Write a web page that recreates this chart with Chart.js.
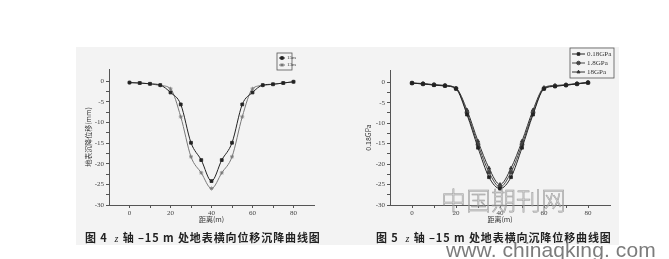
<!DOCTYPE html>
<html>
<head>
<meta charset="utf-8">
<script src="https://cdn.jsdelivr.net/npm/chart.js@4.4.0/dist/chart.umd.min.js"></script>
<style>
  body { margin: 0; background: #fff; width: 669px; height: 259px; position: relative; overflow: hidden; }
  #panel { position: absolute; left: 76px; top: 47px; width: 543px; height: 198px; background: #f3f3f3; }
  canvas { position: absolute; }
  .cap { position: absolute; top: 229px; font: bold 11px "Noto Sans CJK SC", sans-serif; color: #222; letter-spacing: 0.9px; white-space: nowrap; }
  .cap i { font-family: "Liberation Serif", serif; font-weight: normal; font-size: 10px; }
  #wm { position: absolute; left: 441px; top: 181px; font: 200 25px "Noto Sans CJK SC", sans-serif; color: rgba(160,160,160,0.35); -webkit-text-stroke: 0.5px #999; white-space: nowrap; }
  #url { position: absolute; left: 446px; top: 238px; font: 21px "Liberation Sans", sans-serif; color: #7c7c7c; letter-spacing: 0.1px; white-space: nowrap; }
</style>
</head>
<body>
<div id="panel"></div>
<canvas id="fig4" width="264" height="185" style="left:76px;top:47px"></canvas>
<canvas id="fig5" width="279" height="185" style="left:340px;top:47px"></canvas>
<div class="cap" style="left:85px">图 4 &nbsp;<i>z</i> 轴 –15 m 处地表横向位移沉降曲线图</div>
<div class="cap" style="left:376px">图 5 &nbsp;<i>z</i> 轴 –15 m 处地表横向沉降位移曲线图</div>
<div id="wm">中国期刊网</div>
<div id="url">www. chinaqking. com</div>
<script>
// distance along the ground (m)
const distance = [0, 5, 10, 15, 20, 25, 30, 35, 40, 45, 50, 55, 60, 65, 70, 75, 80];
const xTicks = [0, 20, 40, 60, 80];
const yTicks = [0, -5, -10, -15, -20, -25, -30];

// fig 4: depth 15m / 13m
const depth15 = [-0.3, -0.4, -0.6, -0.9, -2.7, -5.6, -14.9, -19.1, -24.2, -19.1, -14.9, -5.6, -2.7, -0.9, -0.7, -0.4, -0.1];
const depth13 = [-0.3, -0.4, -0.6, -1.0, -1.8, -8.6, -18.3, -22.2, -26.0, -22.2, -18.3, -8.6, -1.8, -1.0, -0.7, -0.4, -0.1];

// fig 5: modulus 0.18 / 1.8 / 18 GPa
const gpa018 = [-0.2, -0.4, -0.7, -0.9, -1.6, -7.9, -16.0, -23.2, -26.0, -23.2, -16.0, -7.9, -1.6, -1.0, -0.7, -0.4, -0.1];
const gpa18 = [-0.2, -0.4, -0.6, -0.8, -1.5, -7.4, -15.2, -22.0, -25.6, -22.0, -15.2, -7.4, -1.5, -0.9, -0.7, -0.4, -0.1];
const gpa180 = [-0.2, -0.3, -0.6, -0.8, -1.4, -6.8, -14.4, -21.0, -25.0, -21.0, -14.4, -6.8, -1.3, -0.8, -0.6, -0.3, 0];

const tickFont = { family: 'Liberation Serif', size: 7 };

// small boxed legend, origin style
const boxLegend = {
  id: 'boxLegend',
  afterDraw(chart, args, o) {
    const ctx = chart.ctx;
    const sets = chart.data.datasets;
    ctx.save();
    ctx.strokeStyle = '#555';
    ctx.lineWidth = 0.8;
    ctx.strokeRect(o.x, o.y, o.w, o.rowH * sets.length + 3);
    ctx.font = o.size + 'px "Liberation Serif"';
    ctx.textBaseline = 'middle';
    sets.forEach((ds, i) => {
      const cy = o.y + 1.5 + o.rowH * (i + 0.5);
      ctx.strokeStyle = ds.borderColor;
      ctx.lineWidth = 1;
      ctx.beginPath();
      ctx.moveTo(o.x + 2, cy);
      ctx.lineTo(o.x + o.lineW, cy);
      ctx.stroke();
      ctx.fillStyle = ds.pointBackgroundColor;
      ctx.strokeStyle = ds.borderColor;
      Chart.helpers.drawPoint(ctx, { pointStyle: ds.pointStyle, radius: 1.8, rotation: 0, borderWidth: 0.8 }, o.x + 2 + (o.lineW - 2) / 2, cy);
      ctx.fillStyle = '#333';
      ctx.fillText(ds.label, o.x + o.lineW + 2, cy);
    });
    ctx.restore();
  }
};

function series(label, data, color, style) {
  return {
    label: label, data: data,
    borderColor: color, backgroundColor: color, pointBackgroundColor: color,
    borderWidth: 1, pointStyle: style, pointRadius: 2, pointBorderWidth: 0.8,
    cubicInterpolationMode: 'monotone'
  };
}

function makeChart(id, sets, yTitle, box) {
  new Chart(document.getElementById(id), {
    type: 'line',
    data: { labels: distance, datasets: sets },
    plugins: [boxLegend],
    options: {
      responsive: false,
      animation: false,
      layout: { padding: box.pad },
      plugins: { legend: { display: false }, tooltip: { enabled: false }, boxLegend: box.legend },
      scales: {
        x: {
          type: 'linear', min: -10, max: 90,
          afterFit: s => { s.height = 27; },
          afterBuildTicks: s => { s.ticks = [0, 10, 20, 30, 40, 50, 60, 70, 80].map(v => ({ value: v })); },
          ticks: { font: tickFont, color: '#444', padding: 1, maxRotation: 0, autoSkip: false,
                   callback: v => xTicks.includes(v) ? v : '' },
          grid: { drawOnChartArea: false, tickLength: 3, color: '#555' },
          border: { color: '#555', width: 1 },
          title: { display: true, text: '距离(m)', font: { family: 'Noto Sans CJK SC', size: 7 }, color: '#333', padding: { top: 0, bottom: 8 } }
        },
        y: {
          min: -30, max: 3,
          afterFit: s => { s.width = box.yw; },
          afterBuildTicks: s => {
            const t = [];
            for (let v = 0; v >= -30; v -= 2.5) t.push({ value: v });
            s.ticks = t;
          },
          ticks: { font: tickFont, color: '#444', padding: 2, autoSkip: false,
                   callback: v => yTicks.includes(v) ? v : '' },
          grid: { drawOnChartArea: false, tickLength: 3, color: '#555' },
          border: { color: '#555', width: 1 },
          title: { display: true, text: yTitle, font: { family: 'Noto Sans CJK SC', size: 7 }, color: '#333', padding: { top: box.tp, bottom: 0 } }
        }
      }
    }
  });
}

makeChart('fig4', [
  series('15m', depth15, '#222', 'rect'),
  series('13m', depth13, '#777', 'star')
], '地表沉降位移(mm)', {
  pad: { top: 22, right: 26, left: 0, bottom: 0 }, yw: 33, tp: 8,
  legend: { x: 201, y: 6, w: 15, rowH: 7, lineW: 8, size: 5 }
});

makeChart('fig5', [
  series('0.18GPa', gpa018, '#222', 'rect'),
  series('1.8GPa', gpa18, '#444', 'circle'),
  series('18GPa', gpa180, '#333', 'triangle')
], '0.18GPa', {
  pad: { top: 23, right: 9, left: 0, bottom: 0 }, yw: 50, tp: 24,
  legend: { x: 230, y: 1, w: 44, rowH: 9, lineW: 15, size: 7 }
});
</script>
</body>
</html>
